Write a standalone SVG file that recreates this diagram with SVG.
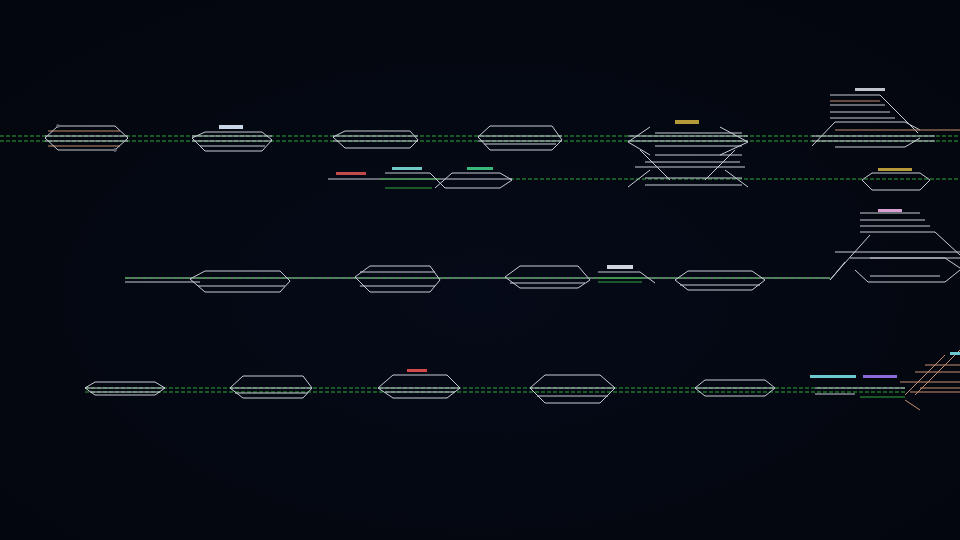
<svg xmlns="http://www.w3.org/2000/svg" width="960" height="540" viewBox="0 0 960 540">
<defs>
<radialGradient id="bg" cx="50%" cy="55%" r="70%"><stop offset="0" stop-color="#050a18"/><stop offset="1" stop-color="#03060c"/></radialGradient>
</defs>
<style>
.t{stroke:#c8ccd4;stroke-width:1;fill:none}
.o{stroke:#c89070;stroke-width:1;fill:none}
.g{stroke:#2fa83a;stroke-width:1;fill:none;stroke-dasharray:4 2}
.gs{stroke:#2fa83a;stroke-width:1;fill:none}
.n{fill:#505660;stroke:#8a909a;stroke-width:0.5}
.lb{stroke:none}
</style>
<rect width="960" height="540" fill="url(#bg)"/>
<g id="connectors">
<line class="g" x1="0" y1="136" x2="960" y2="136"/>
<line class="g" x1="0" y1="141" x2="960" y2="141"/>
<line class="t" x1="328" y1="179" x2="440" y2="179"/>
<line class="g" x1="510" y1="179" x2="960" y2="179"/>
<line class="t" x1="125" y1="278" x2="830" y2="278"/>
<line class="g" x1="125" y1="278" x2="830" y2="278"/>
<line class="t" x1="125" y1="282" x2="200" y2="282"/>
<line class="g" x1="85" y1="388" x2="905" y2="388"/>
<line class="g" x1="85" y1="392" x2="905" y2="392"/>
</g>
<g id="s1"><path class="t" d="M45 136H128M45 141H128"/><path class="o" d="M48 131H120M48 146H120"/><path class="t" d="M58 126L45 138L58 150H115L128 138L115 126Z"/><circle class="n" cx="58" cy="126" r="1.5"/><circle class="n" cx="115" cy="150" r="1.5"/></g>
<g id="s2"><rect class="lb" x="219" y="125" width="24" height="4" fill="#c9d6e8"/><path class="t" d="M205 132L192 138L205 151H262L272 140L262 132ZM192 136H272M192 141H272M200 146H265"/></g>
<g id="s3"><path class="t" d="M345 131L333 137L345 148H410L418 140L410 131ZM333 136H418M333 141H418"/></g>
<g id="s4"><path class="t" d="M490 126L478 137L490 150H552L562 140L552 126ZM478 136H562M478 141H562M484 144H556"/></g>
<g id="s5"><rect class="lb" x="675" y="120" width="24" height="4" fill="#b59a3a"/><path class="t" d="M650 127L628 142L650 155M720 127L748 142L720 155M655 133H742M628 136H748M628 141H748M655 146H742M655 155H742M645 162H740M635 167H745M645 178H742M645 185H742M650 170L628 187M725 170L748 187M640 150L670 180M735 150L705 180"/></g>
<g id="s6"><rect class="lb" x="855" y="88" width="30" height="3" fill="#c0c4cc"/><path class="t" d="M830 95H880L918 133M830 105H885M830 112H890M830 118H895M835 122L812 146M835 122H905L920 130M812 136H935M812 141H935M835 147H905L920 138"/><path class="o" d="M835 130H960M830 101H880"/></g>
<g id="s7"><rect class="lb" x="336" y="172" width="30" height="3" fill="#c24a4a"/><rect class="lb" x="392" y="167" width="30" height="3" fill="#6ec8c8"/><rect class="lb" x="467" y="167" width="26" height="3" fill="#3ab87a"/>
<path class="gs" d="M380 179H440M385 188H432"/><path class="t" d="M385 173H430L445 188H500L512 180M440 179H512M435 188L452 173H500L512 180"/></g>
<g id="s8"><rect class="lb" x="878" y="168" width="34" height="3" fill="#b59a3a"/><path class="t" d="M872 173L862 180L872 190H920L930 180L920 173Z"/></g>
<g id="s9"><path class="t" d="M205 271L190 279L205 292H280L290 281L280 271ZM198 286H285"/></g>
<g id="s10"><path class="t" d="M370 266L355 277L370 292H430L440 280L430 266ZM360 286H435M360 272H435"/></g>
<g id="s11"><path class="t" d="M520 266L505 277L520 288H578L590 280L578 266ZM510 283H585"/></g>
<g id="s12"><rect class="lb" x="607" y="265" width="26" height="4" fill="#d0d4dc"/><path class="t" d="M598 272H640L655 283"/><path class="gs" d="M598 278H642M598 282H642"/></g>
<g id="s13"><path class="t" d="M688 271L675 280L688 290H752L765 280L752 271ZM680 285H760"/></g>
<g id="s14"><rect class="lb" x="878" y="209" width="24" height="3" fill="#d9a0d6"/><path class="t" d="M860 213H920M860 220H925M860 226H930M860 232H935L960 255M870 235L843 265L830 280M835 252H960M850 258H960M845 262L830 280M870 258H945L960 268M855 270L868 282H945L960 270M870 276H940"/></g>
<g id="s15"><path class="t" d="M95 382L85 388L95 395H155L165 388L155 382ZM85 388H165M90 392H160"/></g>
<g id="s16"><path class="t" d="M243 376L230 388L243 398H303L312 388L303 376ZM230 388H312M235 393H308"/></g>
<g id="s17"><rect class="lb" x="407" y="369" width="20" height="3" fill="#d24a4a"/><path class="t" d="M393 375L378 388L393 398H447L460 388L447 375ZM378 388H460M385 392H455"/></g>
<g id="s18"><path class="t" d="M545 375L530 388L545 403H600L615 388L600 375ZM530 388H615M537 396H608"/></g>
<g id="s19"><path class="t" d="M705 380L695 388L705 396H765L775 388L765 380ZM695 388H775"/></g>
<g id="s20"><rect class="lb" x="810" y="375" width="46" height="3" fill="#6ec8d0"/><rect class="lb" x="863" y="375" width="34" height="3" fill="#8a6ad8"/><path class="t" d="M815 388H905M815 394H855"/><path class="gs" d="M860 397H905"/><path class="o" d="M905 395L945 355M915 395L960 350M900 382H960M915 372H960M925 365H960M905 400L920 410M920 388H960M910 392H960"/><rect class="lb" x="950" y="352" width="10" height="3" fill="#6ec8d0"/></g>
</svg>
